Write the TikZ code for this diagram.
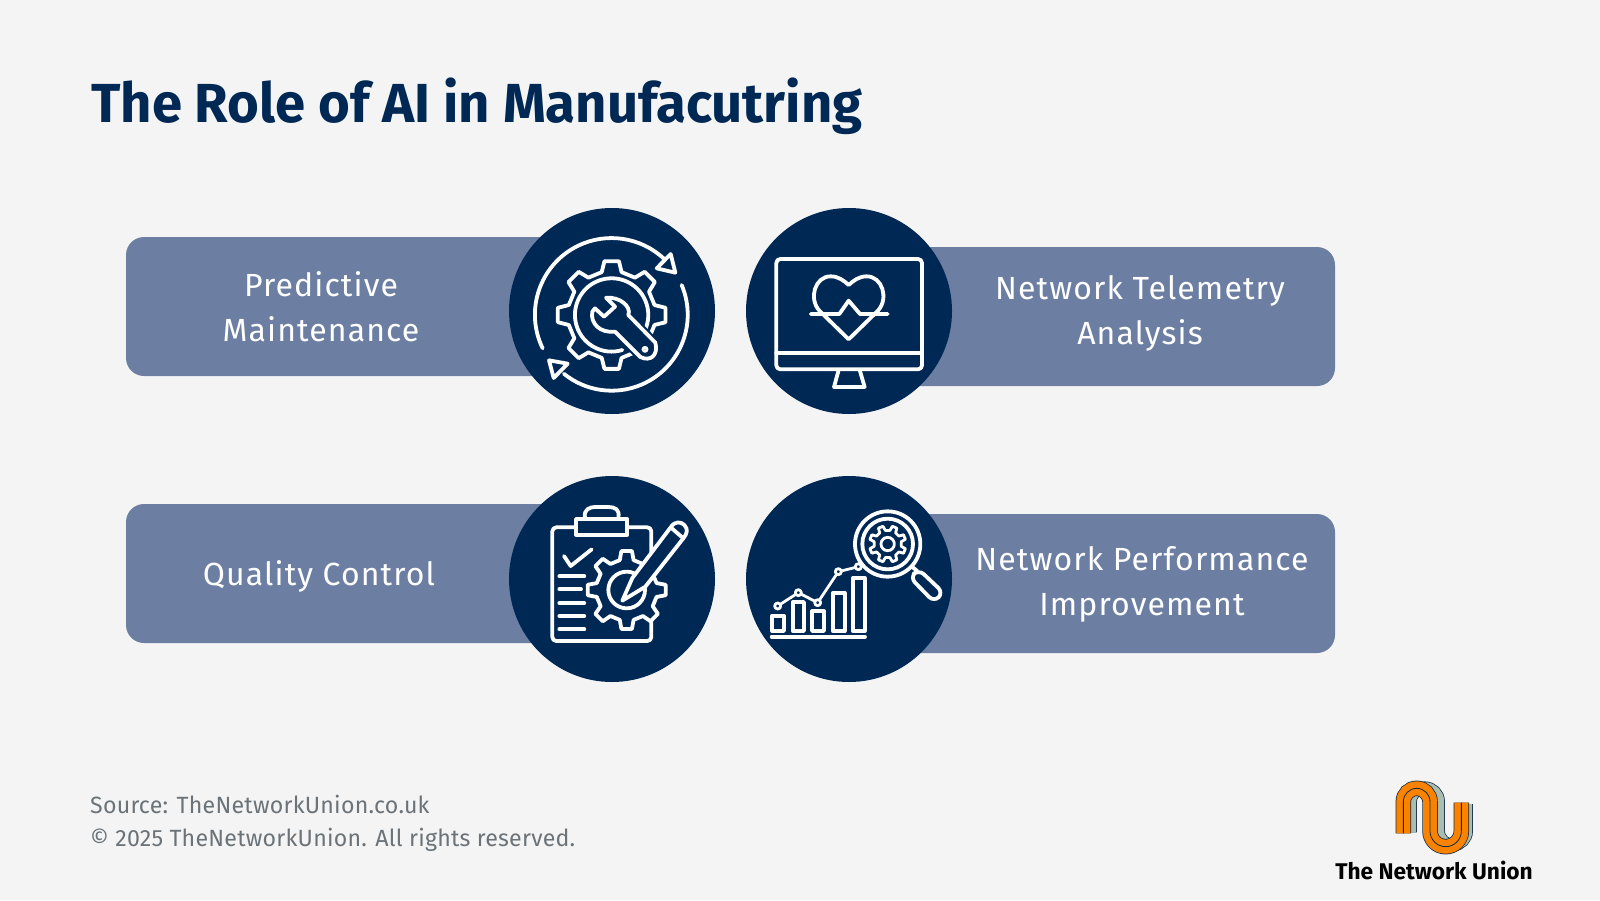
\documentclass[tikz,border=0pt]{standalone}
\usepackage{fontspec}
\setmainfont{Fira Sans}
\newfontfamily\labelfont[LetterSpace=3.5]{Fira Sans}
\newfontfamily\footfont[LetterSpace=1,FakeStretch=0.985]{Fira Sans}
\newfontfamily\titlefont[FakeStretch=0.99]{Fira Sans}
\definecolor{bgc}{HTML}{F4F4F4}
\definecolor{navy}{HTML}{002855}
\definecolor{barc}{HTML}{6C7FA3}
\definecolor{footc}{HTML}{6B7378}
\definecolor{logoo}{HTML}{F98300}
\definecolor{logos}{HTML}{A9BDB2}
\definecolor{logod}{HTML}{12293F}
\tikzset{
  barbox/.style={fill=barc,draw=none,rounded corners=18pt},
  disc/.style={fill=navy,draw=none},
  icon/.style={draw=white,line width=3.8pt,line join=round,line cap=round},
  thinicon/.style={draw=white,line width=2.8pt,line join=round,line cap=round},
  zoomed/.style={x=0.33333pt,y=-0.33333pt},
  lab/.style={text=white,font=\labelfont\fontsize{32}{32}\selectfont,anchor=base},
  foot/.style={text=footc,font=\footfont\fontsize{23.5}{23.5}\selectfont,anchor=base west,inner sep=0pt},
}
% centre x, centre y, root radius, tip radius, teeth, phase, style
\newcommand{\cogwheel}[7]{%
  \pgfmathsetmacro{\cogp}{360/#5}%
  \pgfmathtruncatemacro{\coglast}{#5-1}%
  \path[#7] ([shift={(#1,#2)}]#6-0.29*\cogp:#3)
  \foreach \k in {0,...,\coglast}{
    -- ([shift={(#1,#2)}]#6+\k*\cogp-0.17*\cogp:#4)
    -- ([shift={(#1,#2)}]#6+\k*\cogp+0.17*\cogp:#4)
    -- ([shift={(#1,#2)}]#6+\k*\cogp+0.29*\cogp:#3)
    -- ([shift={(#1,#2)}]#6+\k*\cogp+0.71*\cogp:#3)
  } -- cycle;}
\begin{document}
\begin{tikzpicture}[x=1pt,y=-1pt]
\useasboundingbox (0,0) rectangle (1600,900);
\fill[bgc] (0,0) rectangle (1600,900);

\node[anchor=base west,inner sep=0pt,text=navy,font=\titlefont\bfseries\fontsize{55}{55}\selectfont] (title) at (91,122) {The Role of AI in Manufacutring};

% bars
\path[barbox] (126,237) rectangle (600,376);
\path[barbox] (126,504) rectangle (600,643);
\path[barbox] (860,247) rectangle (1335,386);
\path[barbox] (860,514) rectangle (1335,653);

\node[lab] (t1a) at (321,296) {Predictive};
\node[lab] (t1b) at (321,341) {Maintenance};
\node[lab] (t2a) at (1140,299) {Network Telemetry};
\node[lab] (t2b) at (1140,344) {Analysis};
\node[lab] (t3a) at (319,585) {Quality Control};
\node[lab] (t4a) at (1142,570) {Network Performance};
\node[lab] (t4b) at (1142,615) {Improvement};

% discs
\fill[disc] (612,311) circle (103);
\fill[disc] (849,311) circle (103);
\fill[disc] (612,579) circle (103);
\fill[disc] (849,579) circle (103);

% icon 1: maintenance
\begin{scope}[shift={(500,200)},zoomed]
  \draw[icon] (128,445) arc[start angle=154,end angle=313,radius=230];
  \draw[icon] (545,255) arc[start angle=-23,end angle=129,radius=228];
  \draw[icon] (512,162) -- (526,218) -- (470,205) -- cycle;
  \draw[icon] (147,481) -- (203,491) -- (161,534) -- cycle;
  \cogwheel{335}{345}{132}{163}{8}{0}{icon,fill=navy}
  \draw[icon] (367,450) arc[start angle=73,end angle=382,radius=110];
  \path[draw=navy,fill=navy,line width=8pt,line join=round] (318,293) .. controls (360,290) and (395,320) .. (385,345) -- (466,428) .. controls (476,466) and (451,486) .. (421,471) -- (345,395) .. controls (300,400) and (270,370) .. (277,335) -- (285,325) -- (312,350) -- (345,320) -- cycle;
  \draw[icon] (318,293) .. controls (360,290) and (395,320) .. (385,345) -- (466,428) .. controls (476,466) and (451,486) .. (421,471) -- (345,395) .. controls (300,400) and (270,370) .. (277,335) -- (285,325) -- (312,350) -- (345,320) -- cycle;
  \draw[thinicon] (435,448) circle (6);
\end{scope}

% icon 2: monitor
\begin{scope}[shift={(740,200)},zoomed]
  \draw[icon,rounded corners=4pt] (109,177) rectangle (546,508);
  \draw[icon] (109,460) -- (546,460);
  \draw[icon] (296,510) -- (282,561) -- (374,561) -- (359,510);
  \draw[icon] (326,418) -- (238,332) .. controls (205,295) and (225,229) .. (272,229) .. controls (295,229) and (312,242) .. (326,255) .. controls (340,242) and (357,229) .. (380,229) .. controls (427,229) and (447,295) .. (414,332) -- cycle;
  \draw[icon] (212,342) -- (298,342) -- (326,302) -- (360,342) -- (443,342);
\end{scope}

% icon 3: quality
\begin{scope}[shift={(500,470)},zoomed]
  \draw[icon,rounded corners=4pt] (225,172) -- (157,172) -- (157,513) -- (454,513) -- (454,172) -- (385,172);
  \cogwheel{380}{360}{92}{118}{8}{0}{icon,fill=navy}
  \draw[icon] (380,360) circle (55);
  \draw[icon,fill=navy] (228,147) rectangle (382,194);
  \draw[icon] (255,143) .. controls (250,118) and (270,111) .. (285,111) -- (325,111) .. controls (345,111) and (360,118) .. (355,143);
  \draw[icon] (192,258) -- (212,288) -- (275,238);
  \draw[icon] (178,319) -- (253,319);
  \draw[icon] (178,358) -- (243,358);
  \draw[icon] (178,399) -- (253,399);
  \draw[icon] (178,438) -- (253,438);
  \draw[icon] (178,478) -- (253,478);
  \draw[icon,fill=navy] (367,392) -- (397,324) -- (512,172) .. controls (525,152) and (543,155) .. (553,165) .. controls (565,178) and (562,190) .. (550,205) -- (436,350) -- cycle;
  \draw[icon] (512,172) -- (550,205);
\end{scope}

% icon 4: performance
\begin{scope}[shift={(740,470)},zoomed]
  \draw[icon] (97,437) rectangle (132,483);
  \draw[icon] (158,396) rectangle (192,483);
  \draw[icon] (216,424) rectangle (252,483);
  \draw[icon] (278,369) rectangle (314,483);
  \draw[icon] (338,324) rectangle (374,483);
  \draw[icon] (95,500) -- (375,500);
  \draw[thinicon] (113,408) -- (175,368) -- (233,398) -- (295,305) -- (355,290) -- (375,275);
  \foreach \p in {(113,408),(175,368),(233,398),(295,305),(355,290)}
    \draw[thinicon,fill=navy] \p circle (9);
  \draw[icon,fill=navy] (443,222) circle (98);
  \draw[icon] (443,222) circle (76);
  \cogwheel{443}{222}{41}{55}{8}{22.5}{thinicon}
  \draw[thinicon] (443,222) circle (20);
  \draw[icon] (518,292) -- (532,303);
  \draw[icon,fill=navy,rounded corners=7pt] (510,322) -- (582,396) -- (610,368) -- (536,298) -- cycle;
\end{scope}

% logo
\begin{scope}[shift={(1320,770)},zoomed]
  \draw[logod,line width=12.5pt] (272,187) -- (272,95) arc[start angle=180,end angle=360,radius=42] -- (356,183) arc[start angle=180,end angle=0,radius=42] -- (440,102);
  \draw[logos,line width=11pt] (272,187) -- (272,95) arc[start angle=180,end angle=360,radius=42] -- (356,183) arc[start angle=180,end angle=0,radius=42] -- (440,102);
  \draw[logod,line width=15.5pt] (250,190) -- (250,95) arc[start angle=180,end angle=360,radius=40] -- (330,183) arc[start angle=180,end angle=0,radius=47] -- (424,98);
  \draw[logoo,line width=14pt] (250,190) -- (250,95) arc[start angle=180,end angle=360,radius=40] -- (330,183) arc[start angle=180,end angle=0,radius=47] -- (424,98);
  \draw[logod,line width=0.8pt] (250,190) -- (250,95) arc[start angle=180,end angle=360,radius=40] -- (330,183) arc[start angle=180,end angle=0,radius=47] -- (424,98);
\end{scope}
\node[anchor=base,inner sep=0pt,text=black,font=\bfseries\fontsize{22.7}{22.7}\selectfont] (logotext) at (1434,879) {The Network Union};

\node[foot] (src) at (90,813) {Source: TheNetworkUnion.co.uk};
\node[foot] (copy) at (90,846) {© 2025 TheNetworkUnion. All rights reserved.};
\end{tikzpicture}
\end{document}
